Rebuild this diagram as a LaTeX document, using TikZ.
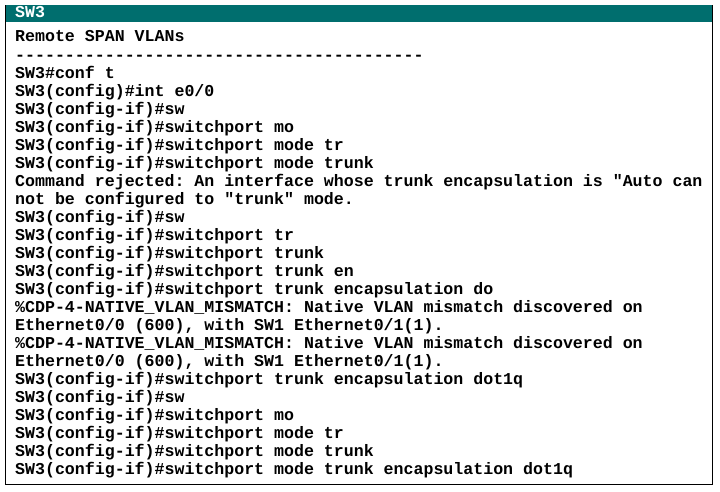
\documentclass[tikz,border=0pt]{standalone}
\usepackage{fontspec}
\setmonofont{Liberation Mono}
\definecolor{hdr}{HTML}{006E6E}
\begin{document}
\begin{tikzpicture}[x=1pt,y=-1pt,
  ln/.style={anchor=base west,inner sep=0pt,font=\ttfamily\bfseries\fontsize{16.6}{18}\selectfont}]
\useasboundingbox (0,0) rectangle (720,492);
\fill[white] (0,0) rectangle (720,492);
\node[draw=black,line width=1pt,minimum width=707pt,minimum height=479pt,anchor=north west,inner sep=0pt] (frame) at (5,5) {};
\fill[hdr] (5.5,5.5) rectangle (711.5,22);
\node[ln,text=white] (title) at (15,18) {SW3};
\foreach \t [count=\i from 0] in {
Remote SPAN VLANs,
-----------------------------------------,
SW3\#conf t,
SW3(config)\#int e0/0,
SW3(config-if)\#sw,
SW3(config-if)\#switchport mo,
SW3(config-if)\#switchport mode tr,
SW3(config-if)\#switchport mode trunk,
{Command rejected: An interface whose trunk encapsulation is "Auto can},
not be configured to "trunk" mode.,
SW3(config-if)\#sw,
SW3(config-if)\#switchport tr,
SW3(config-if)\#switchport trunk,
SW3(config-if)\#switchport trunk en,
SW3(config-if)\#switchport trunk encapsulation do,
\%CDP-4-NATIVE\_VLAN\_MISMATCH: Native VLAN mismatch discovered on,
{Ethernet0/0 (600), with SW1 Ethernet0/1(1).},
\%CDP-4-NATIVE\_VLAN\_MISMATCH: Native VLAN mismatch discovered on,
{Ethernet0/0 (600), with SW1 Ethernet0/1(1).},
SW3(config-if)\#switchport trunk encapsulation dot1q,
SW3(config-if)\#sw,
SW3(config-if)\#switchport mo,
SW3(config-if)\#switchport mode tr,
SW3(config-if)\#switchport mode trunk,
SW3(config-if)\#switchport mode trunk encapsulation dot1q}
  \node[ln] (l\i) at (15,{42+18.04*\i}) {\t};
\end{tikzpicture}
\end{document}
